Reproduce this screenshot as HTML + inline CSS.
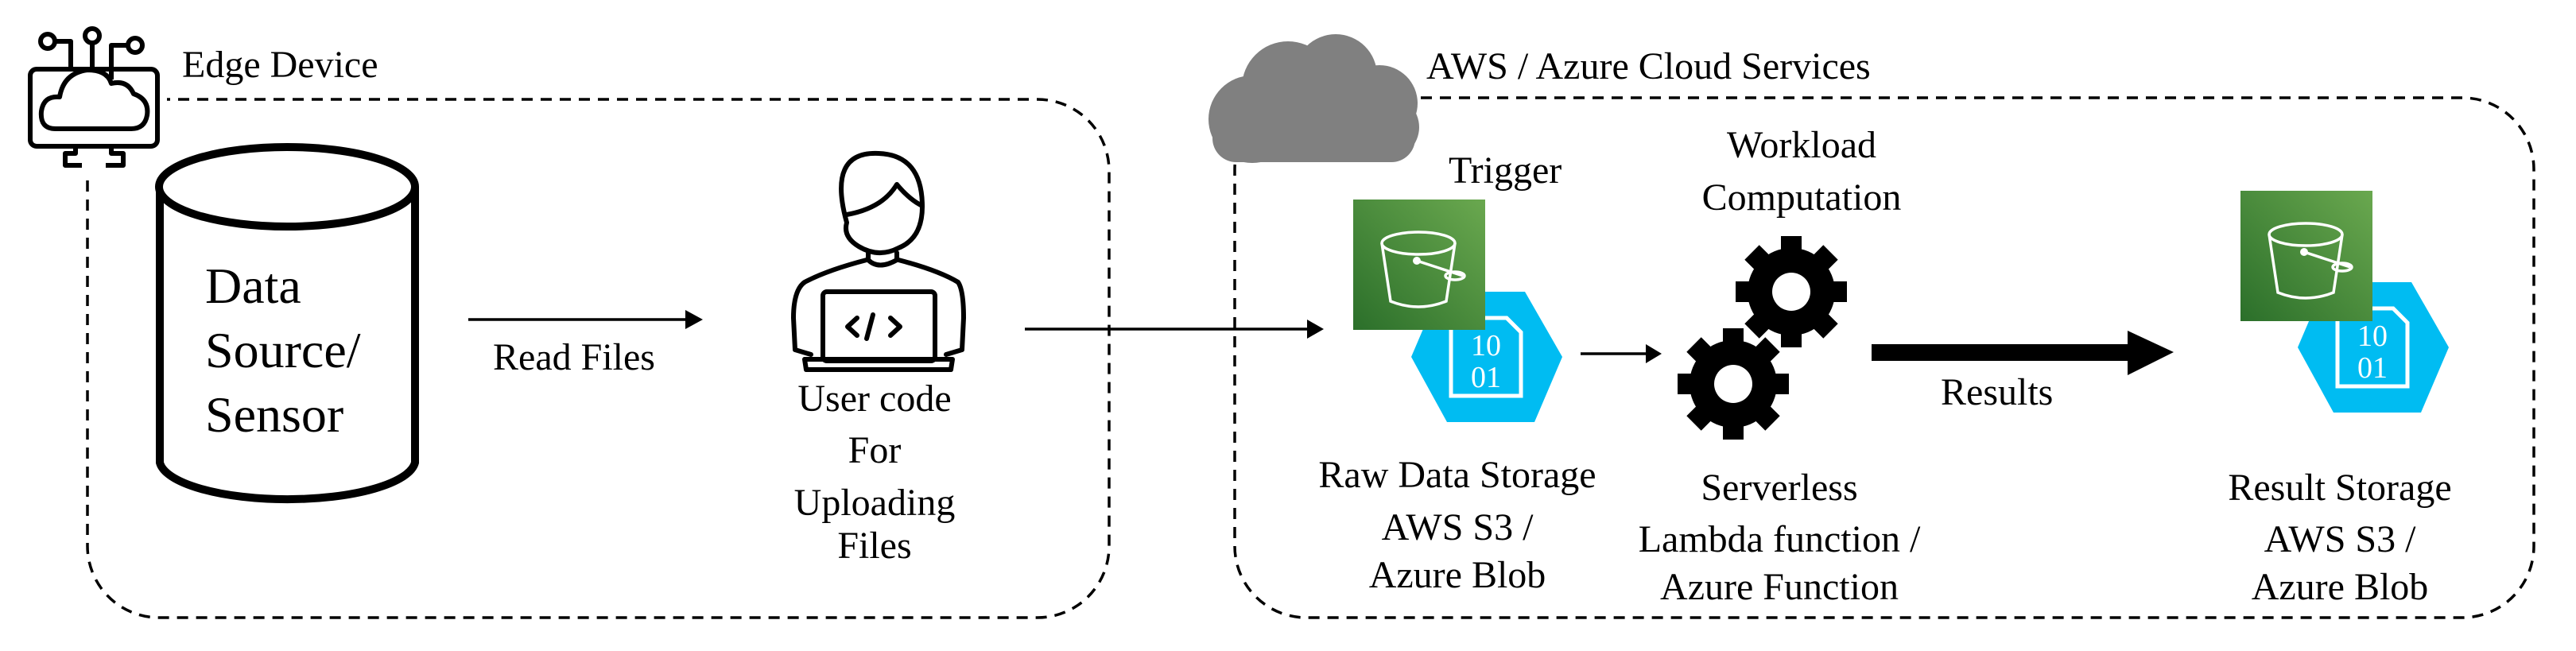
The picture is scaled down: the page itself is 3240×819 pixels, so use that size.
<!DOCTYPE html>
<html><head><meta charset="utf-8"><style>
html,body{margin:0;padding:0;background:#fff}
svg{display:block}
text{font-family:"Liberation Serif",serif;fill:#000}
</style></head><body>
<svg width="3240" height="819" viewBox="0 0 3240 819" xmlns="http://www.w3.org/2000/svg">
<defs>
<linearGradient id="gs" x1="0" y1="1" x2="1" y2="0">
<stop offset="0" stop-color="#2b6f2a"/><stop offset="1" stop-color="#6aa84f"/></linearGradient>
<g id="gear">
<circle r="55" fill="#000"/>
<g fill="#000">
<rect x="-13" y="-70" width="26" height="30"/>
<rect x="-13" y="-70" width="26" height="30" transform="rotate(45)"/>
<rect x="-13" y="-70" width="26" height="30" transform="rotate(90)"/>
<rect x="-13" y="-70" width="26" height="30" transform="rotate(135)"/>
<rect x="-13" y="-70" width="26" height="30" transform="rotate(180)"/>
<rect x="-13" y="-70" width="26" height="30" transform="rotate(225)"/>
<rect x="-13" y="-70" width="26" height="30" transform="rotate(270)"/>
<rect x="-13" y="-70" width="26" height="30" transform="rotate(315)"/>
</g>
<circle r="24" fill="#fff"/>
</g>
<g id="s3">
<rect x="0" y="0" width="166" height="164" fill="url(#gs)"/>
<g fill="none" stroke="#fff" stroke-width="3.5">
<ellipse cx="82" cy="55" rx="46" ry="14"/>
<path d="M36 55 L47 128 Q82 142 117 128 L128 55"/>
<path d="M80 77 L138 96"/>
<ellipse cx="128" cy="96" rx="12" ry="5"/>
</g>
<circle cx="80" cy="77" r="5" fill="#fff"/>
</g>
<g id="blob">
<polygon points="35,0 143,0 190,82 155,164 45,164 0,82" fill="#00bcf2"/>
<path d="M50 33 L120 33 L138 51 L138 131 L50 131 Z" fill="none" stroke="#fff" stroke-width="5"/>
<text x="94" y="80" text-anchor="middle" font-size="38" style="fill:#fff">10</text>
<text x="94" y="120" text-anchor="middle" font-size="38" style="fill:#fff">01</text>
</g>
</defs>

<!-- dashed containers -->
<rect x="110" y="125" width="1285" height="652" rx="90" ry="90" fill="none" stroke="#000" stroke-width="3.5" stroke-dasharray="14,10"/>
<rect x="1553" y="123" width="1634" height="654" rx="90" ry="90" fill="none" stroke="#000" stroke-width="3.5" stroke-dasharray="14,10"/>

<!-- edge icon -->
<rect x="20" y="80" width="190" height="140" fill="#fff"/>
<g fill="none" stroke="#000" stroke-width="6" stroke-linejoin="round">
<rect x="38" y="87" width="160" height="97" rx="8"/>
<path d="M70 162 Q50 162 52 140 Q55 120 75 122 Q80 92 110 88 Q135 88 140 105 Q160 100 168 118 Q188 125 185 145 Q182 162 165 162 Z" fill="#fff"/>
<circle cx="60" cy="52" r="9"/><circle cx="116" cy="45" r="9"/><circle cx="170" cy="57" r="9"/>
<path d="M69 52 L89 52 L89 90"/><path d="M116 54 L116 88"/><path d="M161 57 L140 57 L140 100"/>
<path d="M95 184 L95 193 L82 193 L82 208 L103 208"/><path d="M140 184 L140 193 L155 193 L155 208 L133 208"/>
</g>
<text x="229" y="97" font-size="48">Edge Device</text>

<!-- cloud -->
<g fill="#808080">
<circle cx="1620" cy="110" r="58"/><circle cx="1680" cy="95" r="52"/><circle cx="1735" cy="130" r="48"/>
<circle cx="1575" cy="150" r="55"/><circle cx="1745" cy="160" r="40"/>
<rect x="1525" y="120" width="255" height="84" rx="30"/>
</g>
<text x="1794" y="99" font-size="48">AWS / Azure Cloud Services</text>

<!-- cylinder -->
<g fill="#fff" stroke="#000" stroke-width="10">
<path d="M201 235 L201 582 A161 50 0 0 0 522 582 L522 235"/>
<ellipse cx="361" cy="235" rx="161" ry="50"/>
</g>
<text x="258" y="381" font-size="64">Data</text>
<text x="258" y="462" font-size="64">Source/</text>
<text x="258" y="543" font-size="64">Sensor</text>

<!-- read files arrow -->
<line x1="589" y1="402" x2="864" y2="402" stroke="#000" stroke-width="3.5"/>
<polygon points="862,390 884,402 862,414" fill="#000"/>
<text x="620" y="465" font-size="48">Read Files</text>

<!-- person -->
<g fill="none" stroke="#000" stroke-width="6" stroke-linejoin="round" stroke-linecap="round">
<path d="M1065 280 Q1040 190 1105 193 Q1160 195 1160 260 Q1160 300 1130 312 Q1105 325 1080 310 Q1060 298 1065 280"/>
<path d="M1065 270 Q1110 262 1128 232 Q1143 250 1158 258"/>
<path d="M1092 318 L1092 327 Q1105 340 1128 327 L1128 318"/>
<path d="M1090 327 Q1040 340 1012 355 Q998 365 998 400 L1000 440 L1020 446"/>
<path d="M1130 327 Q1180 340 1205 355 Q1212 365 1212 400 L1210 440 L1190 446"/>
<rect x="1035" y="367" width="141" height="87" rx="5"/>
<path d="M1012 452 L1198 452 L1196 465 L1014 465 Z"/>
<path d="M1078 400 L1066 411 L1078 422"/><path d="M1098 396 L1090 426"/><path d="M1120 400 L1132 411 L1120 422"/>
</g>
<g font-size="48" text-anchor="middle">
<text x="1100" y="517">User code</text>
<text x="1100" y="582">For</text>
<text x="1100" y="648">Uploading</text>
<text x="1100" y="702">Files</text>
</g>

<!-- upload arrow -->
<line x1="1289" y1="414" x2="1648" y2="414" stroke="#000" stroke-width="3.5"/>
<polygon points="1644,402 1665,414 1644,426" fill="#000"/>

<!-- raw storage -->
<use href="#blob" x="1775" y="367"/>
<use href="#s3" x="1702" y="251"/>
<text x="1822" y="230" font-size="48">Trigger</text>
<g font-size="48" text-anchor="middle">
<text x="1833" y="613">Raw Data Storage</text>
<text x="1833" y="679">AWS S3 /</text>
<text x="1833" y="739">Azure Blob</text>
</g>

<line x1="1988" y1="445" x2="2074" y2="445" stroke="#000" stroke-width="3.5"/>
<polygon points="2070,433 2090,445 2070,457" fill="#000"/>

<!-- gears -->
<use href="#gear" x="2253" y="367"/>
<use href="#gear" x="2180" y="483"/>
<g font-size="48" text-anchor="middle">
<text x="2266" y="198">Workload</text>
<text x="2266" y="264">Computation</text>
<text x="2238" y="629">Serverless</text>
<text x="2238" y="694">Lambda function /</text>
<text x="2238" y="754">Azure Function</text>
</g>

<!-- results arrow -->
<rect x="2354" y="433" width="325" height="21" fill="#000"/>
<polygon points="2676,416 2734,443 2676,472" fill="#000"/>
<text x="2441" y="509" font-size="48">Results</text>

<!-- result storage -->
<use href="#blob" x="2890" y="355"/>
<use href="#s3" x="2818" y="240"/>
<g font-size="48" text-anchor="middle">
<text x="2943" y="629">Result Storage</text>
<text x="2943" y="694">AWS S3 /</text>
<text x="2943" y="754">Azure Blob</text>
</g>
</svg>
</body></html>
